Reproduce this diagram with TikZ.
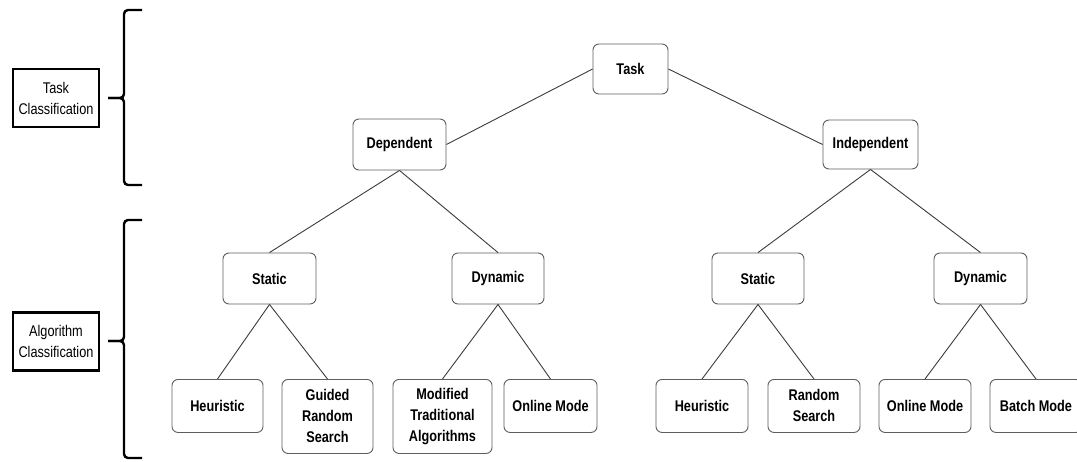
\documentclass[tikz,border=0pt]{standalone}
\usepackage{fontspec}
\setmainfont{Liberation Sans}[FakeStretch=0.82]
\begin{document}
\begin{tikzpicture}[x=1pt,y=-1pt,
  box/.style={draw=boxgray,line width=0.9pt,rounded corners=6pt,fill=white,
    font=\bfseries\fontsize{15.5}{21}\selectfont,align=center,
    inner sep=0pt,minimum width=#1,minimum height=51pt},
  box/.default=93pt,
  leaf/.style={box=#1,anchor=north,minimum height=53pt},
  leaf/.default=92pt,
  tallleaf/.style={box=#1,anchor=north,minimum height=74pt},
  tallleaf/.default=92pt,
  label/.style={draw=black,line width=2.4pt,inner sep=0pt,
    minimum width=86pt,minimum height=58pt,align=center,
    font=\fontsize{15.5}{21}\selectfont},
  link/.style={draw=linegray,line width=0.9pt},
  brace/.style={draw=black,line width=2.4pt,rounded corners=4pt}]
\definecolor{boxgray}{HTML}{5E5E5E}
\definecolor{linegray}{HTML}{3C3C3C}
\useasboundingbox (0,0) rectangle (1077,461);
\fill[white] (0,0) rectangle (1077,461);

% level labels on the left
\node[label] (lt) at (56,98) {Task\\Classification};
\node[label] (la) at (56,341.5) {Algorithm\\Classification};

% braces spanning the two levels
\draw[brace] (142,10) -- (124,10) -- (124,98) -- (108,98);
\draw[brace] (108,98) -- (124,98) -- (124,185) -- (142,185);
\draw[brace] (142,220) -- (124,220) -- (124,341) -- (108,341);
\draw[brace] (108,341) -- (124,341) -- (124,458) -- (142,458);

% task classification
\node[box=75pt,minimum height=50pt] (task) at (630.5,69) {Task};
\node[box=93pt] (dep) at (399.5,144.5) {Dependent};
\node[box=95pt,minimum height=49pt] (ind) at (870.5,144.5) {Independent};

% algorithm classification
\node[box=93pt] (sl) at (269.5,278.5) {Static};
\node[box=92pt] (dl) at (498,278.5) {Dynamic};
\node[box=92pt] (sr) at (758,278.5) {Static};
\node[box=93pt] (dr) at (980.5,278.5) {Dynamic};

% leaves
\node[leaf=91pt] (h1) at (217.5,379) {Heuristic};
\node[tallleaf=91pt] (g1) at (327.5,379) {Guided\\Random\\Search};
\node[tallleaf=99pt] (m1) at (442.5,379) {Modified\\Traditional\\Algorithms};
\node[leaf=93pt] (o1) at (550.5,379) {Online Mode};
\node[leaf=92pt] (h2) at (702,379) {Heuristic};
\node[leaf=92pt] (r2) at (814,379) {Random\\Search};
\node[leaf=92pt] (o2) at (925,379) {Online Mode};
\node[leaf=92pt] (b2) at (1036,379) {Batch Mode};

% tree edges
\draw[link] (task.west) -- (dep.east);
\draw[link] (task.east) -- (ind.west);
\draw[link] (dep.south) -- (sl.north);
\draw[link] (dep.south) -- (dl.north);
\draw[link] (ind.south) -- (sr.north);
\draw[link] (ind.south) -- (dr.north);
\draw[link] (sl.south) -- (h1.north);
\draw[link] (sl.south) -- (g1.north);
\draw[link] (dl.south) -- (m1.north);
\draw[link] (dl.south) -- (o1.north);
\draw[link] (sr.south) -- (h2.north);
\draw[link] (sr.south) -- (r2.north);
\draw[link] (dr.south) -- (o2.north);
\draw[link] (dr.south) -- (b2.north);
\end{tikzpicture}
\end{document}
